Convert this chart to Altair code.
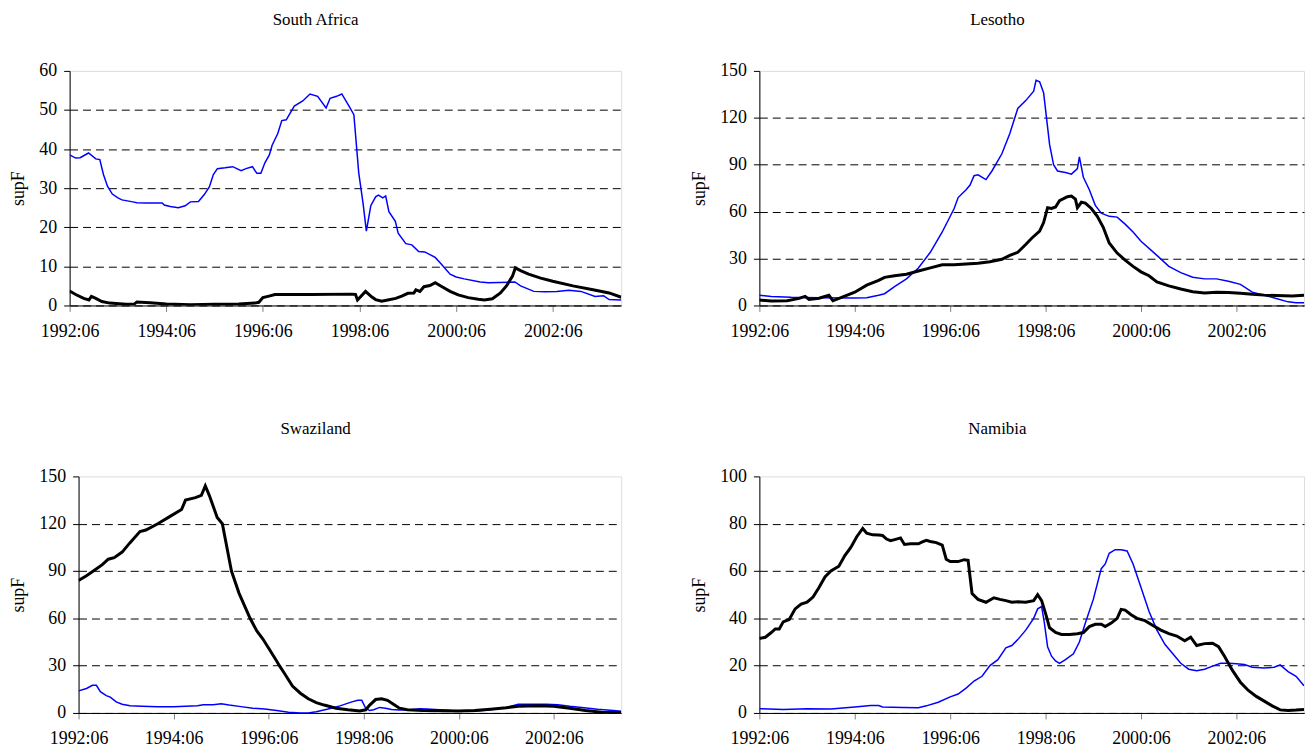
import altair as alt
import pandas as pd

FONT = "Liberation Serif"
BLUE = "#0000FF"
BLACK = "#000000"

# month index 0 = 1992:06, last point = 2003:11
X_TICKS = [0, 24, 48, 72, 96, 120]
X_LABELS = ["1992:06", "1994:06", "1996:06", "1998:06", "2000:06", "2002:06"]
X_LAST = 137
Y_TITLE = "supF"

SA_BLUE = [(0, 38.5), (1.5, 37.7), (2.6, 37.8), (4.7, 39), (6.5, 37.5), (7.5, 37.3), (8.4, 33.5),
           (9.4, 30.5), (10.6, 28.5), (12, 27.5), (13, 27), (15.7, 26.5), (16.7, 26.3), (19, 26.2),
           (23, 26.2), (23.5, 25.7), (25, 25.3), (27, 25), (28.7, 25.5), (30, 26.5), (32, 26.6),
           (33.4, 28.3), (34.7, 30.3), (35.7, 33.5), (36.7, 35), (38.6, 35.2), (40.5, 35.5),
           (42.6, 34.5), (43.8, 35), (45.4, 35.5), (46.5, 33.8), (47.5, 33.8), (48.5, 36.5),
           (49.6, 38.5), (50.3, 41), (51.7, 44), (52.7, 47.3), (53.8, 47.5), (55.8, 51), (57.9, 52.3),
           (59.7, 54.1), (61.6, 53.5), (63.7, 50.5), (64.7, 53), (66.3, 53.5), (67.6, 54.1),
           (69.4, 51), (70.6, 48.8), (71.8, 34), (72.9, 26), (73.7, 19), (74.8, 25.5), (76, 27.8),
           (76.7, 28.2), (77.8, 27.5), (78.5, 28), (79.3, 24), (80.9, 21.5), (81.6, 18.5),
           (83.5, 15.8), (85, 15.5), (86.7, 13.8), (88.2, 13.7), (90.8, 12.3), (92.4, 10.5),
           (94.5, 8), (96, 7.3), (98, 6.8), (102, 6), (104, 5.8), (110.6, 6), (112, 5),
           (115.3, 3.6), (118, 3.5), (121, 3.6), (124, 3.9), (127, 3.6), (130.5, 2.3), (132.6, 2.5),
           (134, 1.5), (137, 1.4)]
SA_BLACK = [(0, 3.7), (1.5, 2.8), (3.5, 1.8), (4.8, 1.4), (5.4, 2.3), (6.5, 1.8), (8, 1.0), (10, 0.6),
            (14, 0.3), (16, 0.3), (16.7, 0.9), (20, 0.7), (24, 0.4), (30, 0.2), (36, 0.3), (42, 0.4),
            (46, 0.6), (47, 0.8), (48, 2.0), (49.5, 2.4), (51, 2.8), (60, 2.8), (70, 2.9), (71, 2.8),
            (71.5, 1.4), (73.5, 3.6), (75, 2.2), (76, 1.5), (77.5, 1.1), (79, 1.4), (81, 1.8),
            (82.5, 2.4), (84, 3.1), (85.5, 3.2), (86, 4), (87, 3.6), (88, 4.8), (89.5, 5.1),
            (90.8, 5.8), (92.5, 4.8), (94.5, 3.6), (96.5, 2.7), (99, 2.0), (101.5, 1.6), (103, 1.4),
            (105, 1.7), (107, 3.2), (108.5, 5), (110, 7.5), (110.7, 9.6), (112, 8.9), (114, 8),
            (117, 7.0), (120, 6.2), (125, 5.0), (130, 4.0), (134, 3.2), (137, 2.1)]

LE_BLUE = [(0, 6.5), (3, 5.7), (8, 5.2), (15, 5.0), (24, 4.8), (27, 5), (30, 6.5), (31.5, 7.5), (34, 12),
           (37, 17), (40, 24), (43, 34), (46, 47), (49, 62), (50, 69), (52, 74), (53, 77), (54, 83),
           (55, 83.5), (57, 80.5), (58.5, 86), (61, 97), (63, 110), (65, 126), (67, 131), (69, 137),
           (69.6, 144), (70.5, 143), (71.5, 136), (73, 103), (74, 90), (75, 86), (77, 85), (78.5, 84),
           (80, 87.5), (80.5, 95), (81.5, 82), (83, 74), (84.5, 64), (86, 59), (88, 57), (90, 56.5),
           (92, 52), (94, 47), (96, 41), (100, 32), (103, 25), (106, 21), (109, 18), (112, 17),
           (115, 17), (118, 15.5), (121, 13.5), (124, 8.5), (127, 6.5), (130, 4.5), (133, 2.3),
           (135, 1.8), (137, 1.8)]
LE_BLACK = [(0, 3.5), (3, 2.8), (7, 3), (10, 4.5), (11.5, 5.8), (12.5, 3.8), (15, 4.6), (17.5, 6.5),
            (18.5, 3.0), (21, 5.5), (24, 8.5), (27, 13), (30, 16), (31.5, 18), (34, 19), (37, 20),
            (40, 22), (43, 24), (46, 26), (49, 26), (52, 26.5), (55, 27), (58, 28), (61, 29.5),
            (63, 32), (65, 34), (67, 39), (68.5, 43), (70.5, 47.5), (71.5, 53), (72.5, 62.5),
            (73.5, 62), (74.5, 63), (75.5, 67), (77.5, 69.5), (78.5, 70), (79.5, 68), (80, 62.5),
            (81, 66), (82, 65.5), (83.5, 62), (85, 57), (86.5, 50), (88, 40), (90, 33.5), (92, 29),
            (94, 25), (96, 21.5), (98, 19), (100, 15), (103, 12.5), (106, 10.5), (109, 8.8),
            (112, 8.0), (115, 8.5), (118, 8.3), (121, 7.8), (124, 7.2), (127, 6.6), (130, 6.3),
            (134, 6), (137, 6.5)]

SW_BLUE = [(0, 14), (2, 15.5), (3.5, 17.5), (4.5, 17.5), (5.5, 13.5), (7, 11), (8, 10), (9.5, 7),
           (11, 5.5), (13, 4.5), (16, 4.2), (20, 4), (24, 4), (27, 4.3), (30, 4.6), (31.5, 5.2),
           (34, 5.2), (36, 5.8), (38, 5), (41, 4), (44, 3), (47, 2.5), (50, 1.5), (53, 0.5), (56, 0),
           (58, 0), (60, 0.8), (63, 2.5), (66, 4.5), (69, 7), (70.5, 8), (71.5, 8), (72.5, 3),
           (73.5, 1.5), (74.5, 2), (76, 3.5), (77.5, 3), (79, 2.2), (81, 1.8), (84, 2), (86, 2.7),
           (88, 2.5), (91, 2), (94, 1.5), (97, 1.2), (100, 1), (104, 2), (108, 3.5), (111, 5.5),
           (114, 5.5), (118, 5.5), (121, 5.2), (124, 4.2), (127, 3.5), (131, 2.3), (135, 1.5),
           (137, 1)]
SW_BLACK = [(0, 84), (2, 87), (4, 90.5), (6, 94), (7.5, 97.5), (9, 98.5), (11, 102), (13, 108),
            (15.5, 115), (17, 116), (20, 120), (23, 124.5), (26, 129), (27, 135), (29.5, 136.5),
            (31, 138), (32, 144), (33, 138), (35, 124), (36.3, 120), (38.6, 90), (40.5, 76),
            (43.3, 60), (45, 52), (46.5, 47), (48, 41), (50, 33), (50.7, 30), (52, 25), (54, 17),
            (56, 12.5), (58, 9), (60, 6.5), (62, 5), (65, 3), (68, 2), (71, 1.2), (72.5, 2),
            (73.5, 5), (75, 8.5), (76.5, 9), (78, 8), (79.5, 5.5), (81, 3), (83, 2), (87, 1.5),
            (96, 1.3), (100, 1.5), (104, 2.3), (108, 3.3), (111, 4.3), (116, 4.5), (120, 4.2),
            (124, 3), (128, 1.5), (132, 0.5), (137, 0.2)]

NA_BLUE = [(0, 1.8), (6, 1.5), (12, 1.8), (18, 1.7), (24, 2.5), (28, 3.1), (30, 3.1), (31, 2.5),
           (36, 2.3), (40, 2.2), (42, 3), (45, 4.5), (48, 6.8), (50, 8), (52, 10.5), (54, 13.5),
           (56, 15.5), (58, 20), (60, 22.5), (62, 27.5), (63.5, 28.5), (65, 31), (67, 35), (69, 40),
           (70, 44), (71, 45), (71.7, 38), (72.5, 28), (73.5, 24), (74.5, 22), (75.5, 21), (77, 22.5),
           (79, 25), (80.5, 30), (82, 38), (84, 48), (86, 61), (87, 63), (88, 67.5), (89.5, 69),
           (91, 69), (92.5, 68.5), (94, 63), (96, 53), (98, 43), (100, 35), (102, 29), (104, 25),
           (106, 21), (108, 18.5), (110, 17.8), (112, 18.5), (114, 19.8), (116, 21), (118, 21),
           (120, 20.8), (122, 20.5), (124, 19.3), (127, 19), (129.5, 19.3), (131, 20.3), (133, 17.5),
           (135, 15.5), (137, 11.5)]
NA_BLACK = [(0, 31.5), (1.5, 32), (3, 34), (4, 35.5), (5, 35.5), (6, 38.5), (7.5, 39.5), (9, 44),
            (10.5, 46), (12, 46.8), (13.5, 49), (15, 53), (16.5, 57.5), (18, 60), (20, 62),
            (21.5, 66.5), (23, 70), (24.5, 74.5), (26, 78), (27, 76), (28.5, 75.3), (30, 75.2),
            (31, 75), (32, 73.5), (33, 72.8), (34.5, 73.5), (35.5, 74), (36.5, 71.2), (38, 71.5),
            (40, 71.5), (41, 72.3), (42, 73), (43, 72.5), (44.5, 72), (46, 71), (47, 65), (48, 64),
            (50, 64), (51.5, 64.8), (52.5, 64.5), (53.5, 50.5), (55, 48), (57, 46.8), (59, 48.7),
            (60.5, 48), (62, 47.5), (63.5, 46.8), (65, 47), (67, 46.8), (69, 47.5), (70, 50),
            (71, 47.5), (72, 42), (73, 36), (74.5, 34), (76, 33.2), (78, 33.2), (80, 33.5),
            (81.5, 34), (83, 36.5), (84.5, 37.5), (86, 37.5), (87, 36.5), (88.5, 38), (90, 40),
            (91, 43.8), (92, 43.5), (93.5, 41.5), (95, 40), (97, 39), (99, 37), (101, 35),
            (103, 33.5), (105, 32.5), (107, 30.5), (108.5, 32), (110, 28.5), (112, 29.3),
            (114, 29.5), (115.5, 28), (117, 24), (119, 18), (121, 13), (123, 9.5), (125, 7),
            (127, 5), (129, 3), (131, 1.3), (133, 1), (135, 1.2), (137, 1.5)]


def panel(name, blue, black, ymax, ystep, width, height, title_offset):
    yvals = list(range(0, ymax + 1, ystep))
    label_expr = ("[" + ",".join("'%s'" % s for s in X_LABELS) + "][indexof(["
                  + ",".join(str(t) for t in X_TICKS) + "], datum.value)]")
    x = alt.X("m:Q",
              scale=alt.Scale(domain=[0, X_LAST], nice=False, zero=False),
              axis=alt.Axis(values=X_TICKS, labelExpr=label_expr, title=None, grid=False,
                            tickSize=6, tickColor="#808080", labelPadding=11,
                            labelFont=FONT, labelFontSize=18, labelColor=BLACK,
                            labelFlush=False, labelOverlap=False,
                            domainColor=BLACK, domainWidth=1))
    y = alt.Y("v:Q",
              scale=alt.Scale(domain=[0, ymax], nice=False, zero=True),
              axis=alt.Axis(values=yvals, title=Y_TITLE, grid=True, gridColor=BLACK,
                            gridDash=[8, 5], gridWidth=1,
                            gridOpacity={"condition": {"test": "datum.value >= %d" % ymax, "value": 0},
                                         "value": 1},
                            tickSize=6, tickColor=BLACK, labelPadding=7,
                            labelFont=FONT, labelFontSize=18, labelColor=BLACK,
                            labelOverlap=False,
                            titleFont=FONT, titleFontSize=18, titleFontWeight="normal",
                            titleColor=BLACK, titlePadding=11,
                            domainColor=BLACK, domainWidth=1))
    blue_layer = alt.Chart(pd.DataFrame(blue, columns=["m", "v"])).mark_line(
        color=BLUE, strokeWidth=1.5, clip=True).encode(x=x, y=y)
    black_layer = alt.Chart(pd.DataFrame(black, columns=["m", "v"])).mark_line(
        color=BLACK, strokeWidth=3, clip=True).encode(x=x, y=y)
    return alt.layer(blue_layer, black_layer).properties(
        width=width, height=height,
        title=alt.TitleParams(name, font=FONT, fontSize=17, fontWeight="normal",
                              color=BLACK, anchor="middle", frame="bounds",
                              offset=title_offset))


def spacer(w):
    # invisible, empty cell used only as a gap in the row layout
    return alt.Chart(pd.DataFrame({"v": [0]})).mark_point(opacity=0, size=0, strokeWidth=0).encode(
        x=alt.value(w / 2), y=alt.value(5)
    ).properties(width=w, height=10, view=alt.ViewBackground(strokeOpacity=0, fillOpacity=0))


sa = panel("South Africa", SA_BLUE, SA_BLACK, 60, 10, 555, 236, 33)
le = panel("Lesotho", LE_BLUE, LE_BLACK, 150, 30, 548, 236, 33)
sw = panel("Swaziland", SW_BLUE, SW_BLACK, 150, 30, 546, 238, 30)
na = panel("Namibia", NA_BLUE, NA_BLACK, 100, 20, 548, 238, 30)

row1 = alt.hconcat(spacer(1), sa, spacer(68), le, spacing=0)
row2 = alt.hconcat(spacer(1), sw, spacer(68), na, spacing=0)

chart = alt.vconcat(row1, row2, spacing=78).properties(
    padding={"left": 0, "top": 0, "right": 0, "bottom": 0}
).configure_view(stroke="#808080", strokeWidth=1).configure(background="white")

chart.save("out.html", embed_options={"renderer": "svg", "actions": False})
